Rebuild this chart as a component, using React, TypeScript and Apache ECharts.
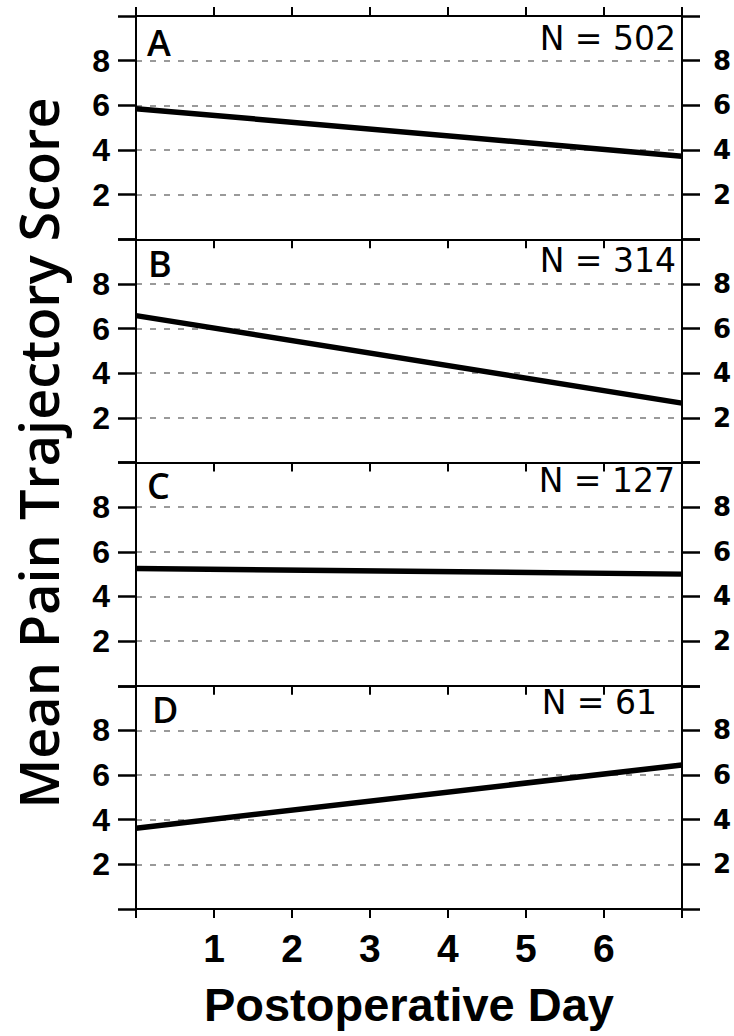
import React, { useEffect, useRef } from "react";
import * as echarts from "echarts";

// ---- data ----
const days = [0, 7];
const panelA = [5.85, 3.72];
const panelB = [6.58, 2.66];
const panelC = [5.25, 5.0];
const panelD = [3.62, 6.45];
const panelValues = [panelA, panelB, panelC, panelD];
const panelLetters = ["A", "B", "C", "D"];
const sampleSizes = [502, 314, 127, 61];
const xTickLabels = ["", "1", "2", "3", "4", "5", "6", ""];
const yTickLabels: Record<number, string> = { 0: "", 2: "2", 4: "4", 6: "6", 8: "8", 10: "" };
const xTitle = "Postoperative Day";
const yTitle = "Mean Pain Trajectory Score";

// ---- layout ----
const W = 734;
const H = 1036;
const LEFT = 136;
const RIGHT_X = 682;
const TOP = 16;
const BOTTOM = 909;
const PH = (BOTTOM - TOP) / 4;
const YTICK = 18;

const letterPos = [
  { x: 147, cy: 42 },
  { x: 148, cy: 263 },
  { x: 147, cy: 485 },
  { x: 152, cy: 709 },
];
const nPos = [
  { x: 676, cy: 38 },
  { x: 676, cy: 260 },
  { x: 675, cy: 480 },
  { x: 657, cy: 702 },
];

const SANS = "'Liberation Sans', Arial, sans-serif";

export default function App() {
  const ref = useRef<HTMLDivElement>(null);
  useEffect(() => {
    if (!ref.current) return;
    const chart = echarts.init(ref.current, null, { renderer: "svg" });
    const grids: any[] = [];
    const xAxes: any[] = [];
    const yAxes: any[] = [];
    const series: any[] = [];
    const black = "#000";
    const yFmt = (v: number) => yTickLabels[Math.round(v)] ?? "";
    const xFmt = (v: number) => xTickLabels[Math.round(v)] ?? "";
    const n = panelValues.length;
    panelValues.forEach((vals, i) => {
      grids.push({
        left: LEFT,
        width: RIGHT_X - LEFT,
        top: TOP + PH * i,
        height: PH,
      });
      const last = i === n - 1;
      const xAx: any = {
        type: "value",
        gridIndex: i,
        position: "bottom",
        min: 0,
        max: 7,
        interval: 1,
        axisLine: { show: true, onZero: false, lineStyle: { color: black, width: 2 } },
        axisTick: { show: true, length: 9, lineStyle: { color: black, width: 2 } },
        splitLine: { show: false },
        axisLabel: {
          show: last,
          formatter: xFmt,
          color: black,
          fontFamily: SANS,
          fontWeight: "bold",
          fontSize: 39,
          margin: 20,
        },
      };
      if (last) {
        xAx.name = xTitle;
        xAx.nameLocation = "middle";
        xAx.nameGap = 72;
        xAx.nameTextStyle = {
          color: black,
          fontFamily: SANS,
          fontWeight: "bold",
          fontSize: 47,
        };
      }
      xAxes.push(xAx);
      const yCommon = {
        type: "value",
        gridIndex: i,
        min: 0,
        max: 10,
        interval: 2,
      };
      yAxes.push({
        ...yCommon,
        position: "left",
        axisLine: { show: true, onZero: false, lineStyle: { color: black, width: 2 } },
        axisTick: { show: false },
        axisLabel: {
          formatter: yFmt,
          color: black,
          fontFamily: SANS,
          fontWeight: "bold",
          fontSize: 32,
          margin: 26,
        },
        splitLine: {
          show: true,
          showMinLine: false,
          showMaxLine: false,
          lineStyle: { color: "#9a9a9a", width: 2, type: [6, 8] },
        },
      });
      yAxes.push({
        ...yCommon,
        position: "right",
        axisLine: { show: true, onZero: false, lineStyle: { color: black, width: 2 } },
        axisTick: { show: false },
        axisLabel: {
          formatter: yFmt,
          color: black,
          fontFamily: "'DejaVu Sans', sans-serif",
          fontWeight: "bold",
          fontSize: 26,
          margin: 31,
        },
        splitLine: { show: false },
      });
      series.push({
        type: "line",
        xAxisIndex: i,
        yAxisIndex: i * 2,
        data: days.map((d, k) => [d, vals[k]]),
        symbol: "none",
        lineStyle: { color: black, width: 5.5 },
        z: 5,
      });
    });
    // top axis of the first panel
    xAxes.push({
      type: "value",
      gridIndex: 0,
      position: "top",
      min: 0,
      max: 7,
      interval: 1,
      axisLine: { show: true, onZero: false, lineStyle: { color: black, width: 2 } },
      axisTick: { show: true, length: 9, lineStyle: { color: black, width: 2 } },
      axisLabel: { show: false },
      splitLine: { show: false },
    });
    // y tick strips (left and right of each panel), drawn as the strip axes' split lines
    panelValues.forEach((_, i) => {
      [LEFT - YTICK, RIGHT_X].forEach((sx) => {
        const gi = grids.length;
        grids.push({ left: sx, width: YTICK, top: TOP + PH * i, height: PH });
        xAxes.push({
          type: "value",
          gridIndex: gi,
          min: 0,
          max: 1,
          show: false,
        });
        yAxes.push({
          type: "value",
          gridIndex: gi,
          min: 0,
          max: 10,
          interval: 2,
          axisLine: { show: false },
          axisTick: { show: false },
          axisLabel: { show: false },
          splitLine: {
            show: true,
            showMinLine: true,
            showMaxLine: true,
            lineStyle: { color: black, width: 2.5, type: "solid" },
          },
        });
      });
    });

    const graphics: any[] = [];
    panelLetters.forEach((l, i) => {
      graphics.push({
        type: "text",
        x: letterPos[i].x,
        y: letterPos[i].cy,
        style: {
          text: l,
          fill: black,
          font: "600 36px 'Open Sans', sans-serif",
          textAlign: "left",
          textVerticalAlign: "middle",
        },
        z: 10,
      });
      graphics.push({
        type: "text",
        x: nPos[i].x,
        y: nPos[i].cy,
        style: {
          text: "N = " + sampleSizes[i],
          fill: black,
          font: "33px 'DejaVu Sans', sans-serif",
          textAlign: "right",
          textVerticalAlign: "middle",
        },
        z: 10,
      });
    });
    graphics.push({
      type: "text",
      x: 38,
      y: 453,
      rotation: Math.PI / 2,
      style: {
        text: yTitle,
        fill: black,
        font: "600 54px 'Open Sans', sans-serif",
        textAlign: "center",
        textVerticalAlign: "middle",
      },
    });

    chart.setOption({
      animation: false,
      backgroundColor: "#fff",
      grid: grids,
      xAxis: xAxes,
      yAxis: yAxes,
      series,
      graphic: graphics,
    });
    return () => chart.dispose();
  }, []);
  return (
    <div
      ref={ref}
      style={{ position: "fixed", left: 0, top: 0, width: W, height: H }}
    />
  );
}
